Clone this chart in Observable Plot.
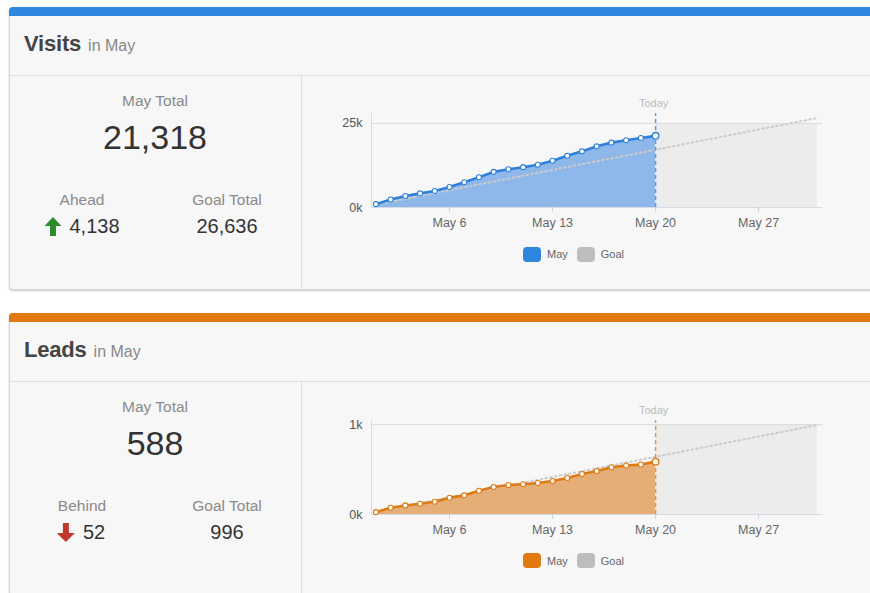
<!DOCTYPE html>
<html>
<head>
<meta charset="utf-8">
<script src="https://cdn.jsdelivr.net/npm/d3@7"></script>
<script src="https://cdn.jsdelivr.net/npm/@observablehq/plot@0.6"></script>
<style>
  html, body { margin: 0; padding: 0; }
  body { width: 870px; height: 593px; overflow: hidden; position: relative; background: #fff;
         font-family: "Helvetica Neue", Helvetica, Arial, "Liberation Sans", sans-serif; }
  .panel { position: absolute; left: 9px; width: 900px; background: #f7f7f7; border: 1px solid #d6d6d6;
           border-radius: 4px; box-sizing: border-box; box-shadow: 0 1px 2px rgba(0,0,0,0.22); }
  .topbar { position: absolute; left: 9px; width: 900px; height: 9px; border-radius: 4px 4px 0 0; }
  .hline { position: absolute; left: 10px; width: 900px; height: 1px; background: #dedede; }
  .vline { position: absolute; left: 301px; width: 1px; background: #dedede; }
  .title { position: absolute; left: 24px; height: 24px; line-height: 24px; white-space: nowrap; }
  .title b { font-size: 22px; color: #444; font-weight: bold; letter-spacing: -0.2px; }
  .title span { font-size: 16px; color: #888; margin-left: 7px; }
  .lbl { position: absolute; transform: translateX(-50%); white-space: nowrap; text-align: center; }
  .cap { font-size: 15.5px; color: #8a8a8a; height: 20px; line-height: 20px; }
  .big { font-size: 34px; color: #333; height: 40px; line-height: 40px; }
  .num { font-size: 20px; color: #333; height: 24px; line-height: 24px; }
  .chart { position: absolute; left: 310px; }
  .legend { position: absolute; font-size: 11px; color: #666; display: flex; align-items: center; height: 16px; }
  .sw { width: 18px; height: 15px; border-radius: 4px; display: inline-block; margin-right: 6px; }
</style>
</head>
<body>
<script>
// ---------- data ----------
const days = [1, 2, 3, 4, 5, 6, 7, 8, 9, 10, 11, 12, 13, 14, 15, 16, 17, 18, 19, 20];
const visitsMay = [1000, 2400, 3400, 4200, 4900, 6100, 7500, 9000, 10600, 11400, 12000, 12700, 13900, 15400, 16700, 18200, 19300, 20000, 20700, 21318];
const leadsMay = [26, 75, 101, 120, 142, 187, 213, 265, 306, 328, 336, 350, 373, 406, 451, 484, 526, 545, 557, 588];
const goalDays = [1, 31];
const visitsGoal = [860, 26636];
const leadsGoal = [32, 996];
const todayDay = 20;
const xTickDays = [6, 13, 20, 27];
const visitsTicks = [0, 25000];
const leadsTicks = [0, 1000];
const panels = [
  {title: "Visits", sub: "in May", total: "21,318", diffLabel: "Ahead", diff: "4,138", up: true, goalTotal: "26,636",
   values: visitsMay, goal: visitsGoal, ticks: visitsTicks,
   bar: "#2f86de", line: "#2f80da", area: "#8fb8ea", dash: "#5b9be6", swatch: "#2f86de"},
  {title: "Leads", sub: "in May", total: "588", diffLabel: "Behind", diff: "52", up: false, goalTotal: "996",
   values: leadsMay, goal: leadsGoal, ticks: leadsTicks,
   bar: "#e07a10", line: "#de7a14", area: "#e5ae76", dash: "#e8944a", swatch: "#e07a10"}
];

// ---------- helpers ----------
const FONT = '"Helvetica Neue", Helvetica, Arial, "Liberation Sans", sans-serif';
const may = d => new Date(Date.UTC(2013, 4, d));
const DAY = 864e5;

function el(tag, cls, style, html) {
  const e = document.createElement(tag);
  if (cls) e.className = cls;
  if (style) Object.assign(e.style, style);
  if (html != null) e.innerHTML = html;
  document.body.appendChild(e);
  return e;
}

function makeChart(p) {
  const data = days.map((d, i) => ({date: may(d), value: p.values[i]}));
  const goalData = goalDays.map((d, i) => ({date: may(d), value: p.goal[i]}));
  const goalTotal = p.goal[p.goal.length - 1];
  const top = goalTotal * 1.05;
  const x0 = new Date(+may(1) - 0.3 * DAY);
  const x1 = new Date(+may(31) + 0.34 * DAY);
  const today = may(todayDay);
  const last = data[data.length - 1];
  return Plot.plot({
    width: 530, height: 140,
    marginLeft: 61, marginRight: 18, marginTop: 18, marginBottom: 28,
    style: {background: "transparent", fontFamily: FONT, overflow: "visible"},
    x: {type: "utc", domain: [x0, x1], label: null},
    y: {domain: [0, top], label: null},
    marks: [
      Plot.rect([{a: today, b: may(31), lo: p.ticks[0], hi: p.ticks[1]}],
        {x1: "a", x2: "b", y1: "lo", y2: "hi", fill: "#ececec"}),
      Plot.ruleY([p.ticks[1]], {stroke: "#dcdcdc"}),
      Plot.areaY(data, {x: "date", y: "value", fill: p.area, fillOpacity: 1}),
      Plot.lineY(goalData, {x: "date", y: "value", stroke: "#cbcbcb", strokeWidth: 2, strokeDasharray: "1.6,3.2"}),
      Plot.ruleY([0], {stroke: "#d8dce2"}),
      Plot.ruleX([x0], {stroke: "#dcdcdc"}),
      Plot.ruleX([today], {y1: 0, y2: top, stroke: p.dash, strokeWidth: 1.5, strokeDasharray: "4,3"}),
      Plot.lineY(data, {x: "date", y: "value", stroke: p.line, strokeWidth: 2.6}),
      Plot.dot(data.slice(0, -1), {x: "date", y: "value", r: 2.5, fill: "#fff", stroke: p.line, strokeWidth: 1.1}),
      Plot.dot([last], {x: "date", y: "value", r: 3.3, fill: "#fff", stroke: p.line, strokeWidth: 1.4}),
      Plot.axisX({ticks: xTickDays.map(may), tickFormat: d => "May " + d.getUTCDate(),
        tickSize: 5, tickPadding: 6, stroke: "#c5d3e3", fill: "#666", fontSize: 12.5}),
      Plot.axisY({ticks: p.ticks, tickFormat: d => (d / 1000) + "k",
        tickSize: 0, tickPadding: 9, fill: "#555", fontSize: 12.5}),
      Plot.text([{date: today, label: "Today"}], {x: "date", text: "label", frameAnchor: "top",
        lineAnchor: "middle", dy: -10, dx: -2, fill: "#bdbdbd", fontSize: 11})
    ]
  });
}

const upArrow = '<svg width="17" height="19" viewBox="0 0 17 19"><polygon points="8.5,0 17,9 11.5,9 11.5,19 5.5,19 5.5,9 0,9" fill="#2e8b2e"/></svg>';
const downArrow = '<svg width="18" height="19" viewBox="0 0 18 19"><polygon points="6,0 12,0 12,10 18,10 9,19 0,10 6,10" fill="#c0392b"/></svg>';

panels.forEach((p, k) => {
  const oy = k * 306;     // panel offset
  const cy = k * 306.6;   // chart offset
  el("div", "panel", {top: (7 + oy) + "px", height: "283px"});
  el("div", "topbar", {top: (7 + oy) + "px", background: p.bar});
  el("div", "hline", {top: (75 + oy) + "px"});
  el("div", "vline", {top: (76 + oy) + "px", height: "214px"});
  el("div", "title", {top: (32 + oy) + "px"}, `<b>${p.title}</b><span>${p.sub}</span>`);

  el("div", "lbl cap", {left: "155px", top: (90.5 + oy) + "px"}, "May Total");
  el("div", "lbl big", {left: "155px", top: (117 + oy) + "px"}, p.total);
  el("div", "lbl cap", {left: "82px", top: (190 + oy) + "px"}, p.diffLabel);
  el("div", "lbl cap", {left: "227px", top: (190 + oy) + "px"}, "Goal Total");
  el("div", "lbl num", {left: "227px", top: (213.5 + oy) + "px"}, p.goalTotal);
  const arrow = p.up ? upArrow : downArrow;
  el("div", "lbl num", {left: p.up ? "82px" : "81px", top: (213.5 + oy) + "px", display: "flex", alignItems: "center", gap: "8px"},
     `<span style="display:inline-flex;margin-top:2px">${arrow}</span><span>${p.diff}</span>`);

  const c = el("div", "chart", {top: (95 + cy) + "px"});
  c.appendChild(makeChart(p));

  el("div", "legend", {left: "523px", top: (246 + cy) + "px"},
     `<span class="sw" style="background:${p.swatch}"></span><span style="margin-right:9px">May</span>` +
     `<span class="sw" style="background:#bdbdbd"></span><span>Goal</span>`);
});
</script>
</body>
</html>
